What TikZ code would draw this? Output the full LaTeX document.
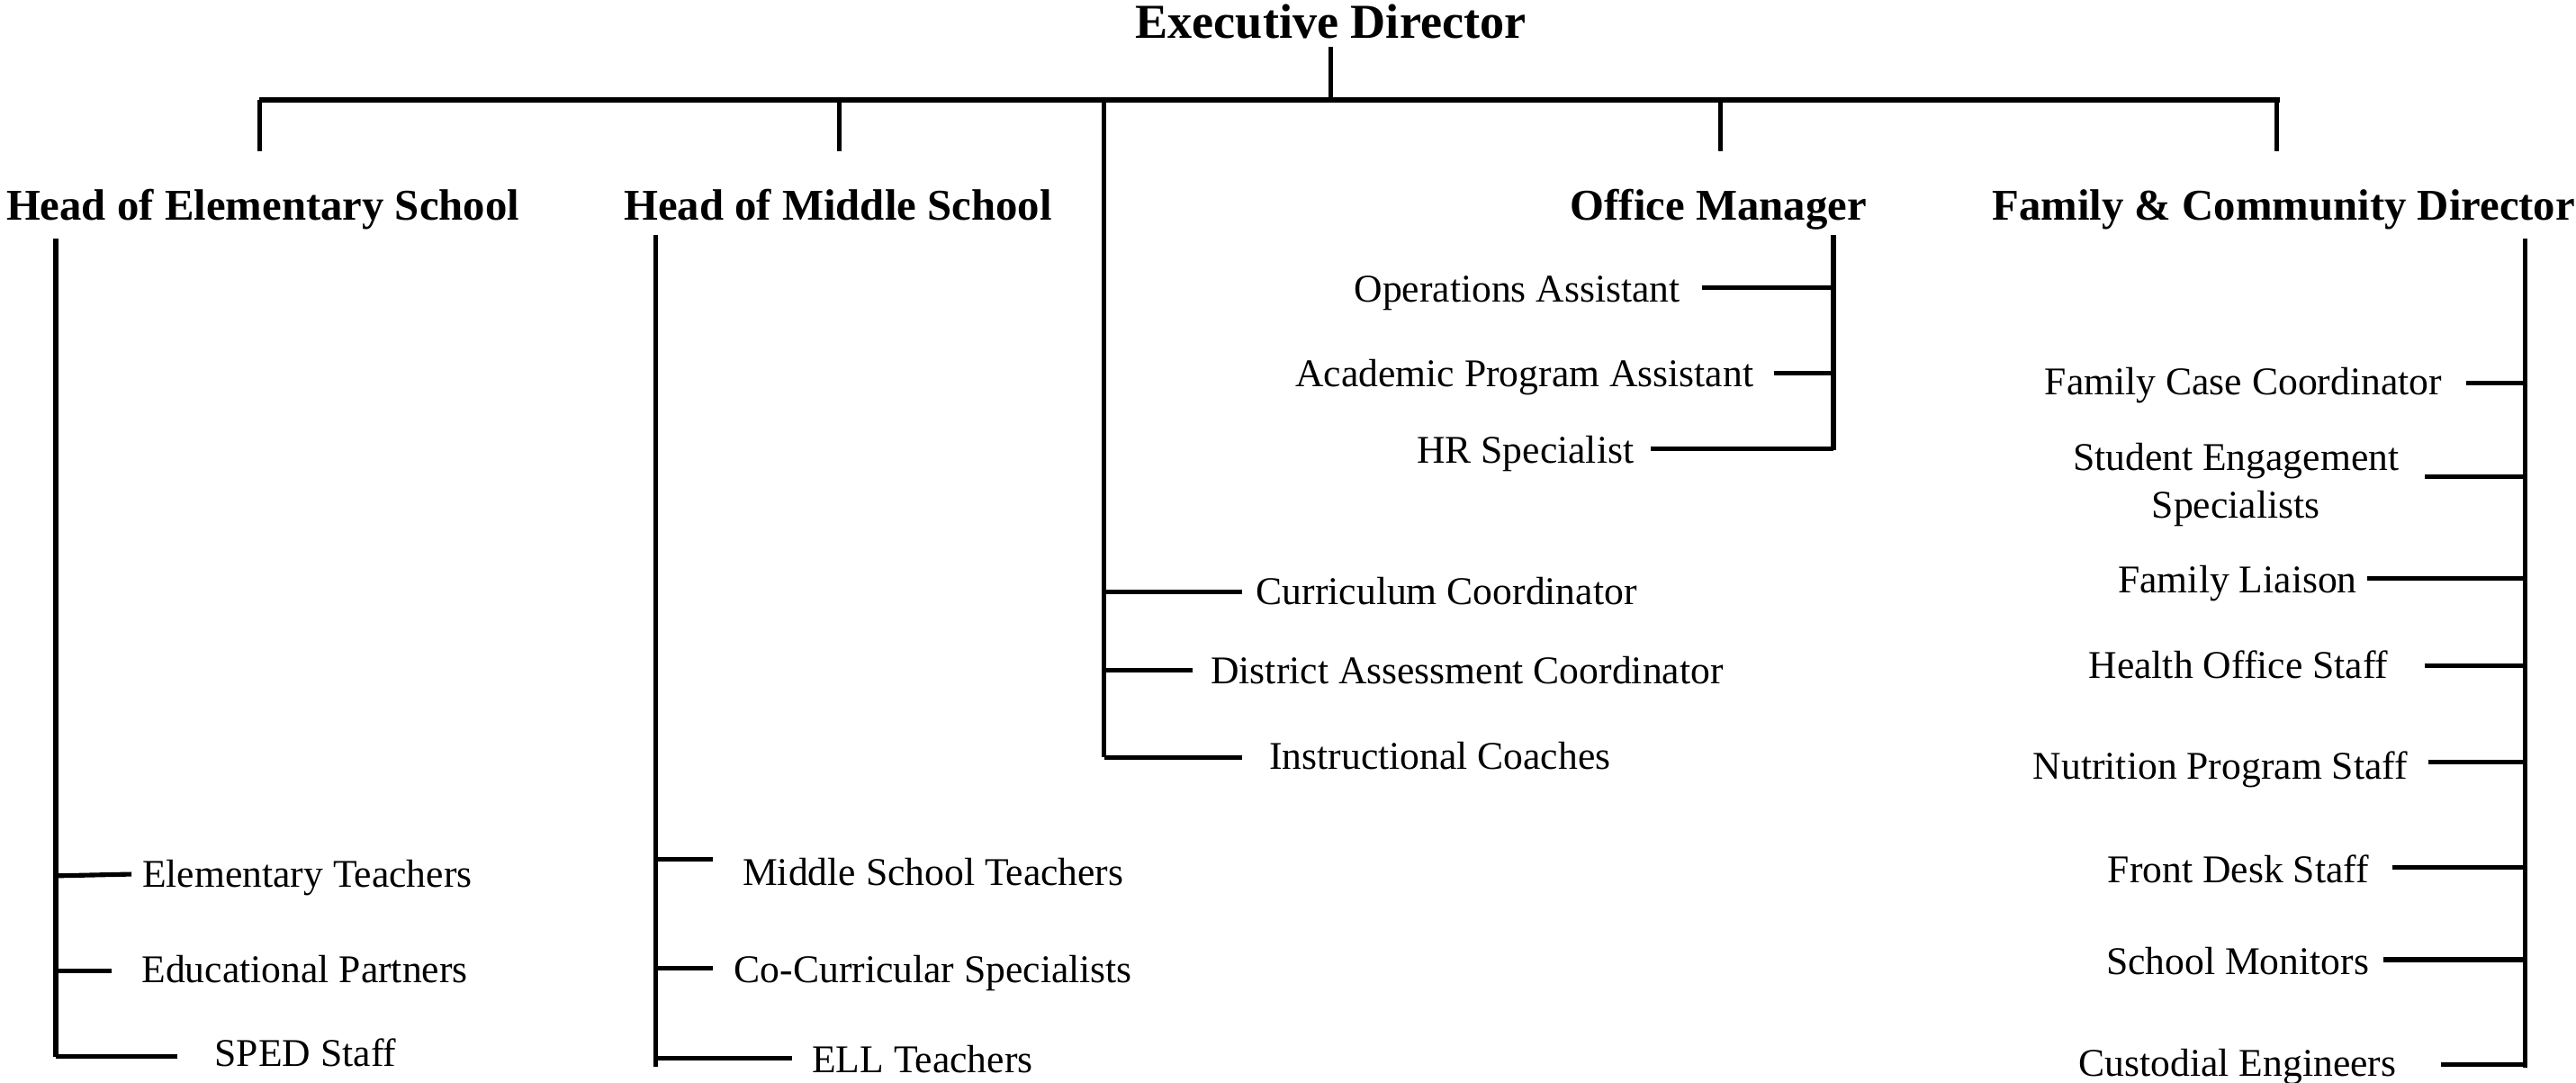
\documentclass[tikz,border=0pt]{standalone}
\usepackage{fontspec}
\setmainfont{Liberation Serif}

\tikzset{
  top/.style={anchor=mid,inner sep=0pt,font=\bfseries\fontsize{16.9}{19}\selectfont},
  head/.style={anchor=mid,inner sep=0pt,font=\bfseries\fontsize{15.2}{18}\selectfont},
  staff/.style={anchor=mid,inner sep=0pt,font=\fontsize{13.6}{16.5}\selectfont},
  link/.style={line width=1.6pt},
  bar/.style={line width=1.8pt}
}

\begin{document}
\begin{tikzpicture}[x=0.02cm,y=-0.02cm]
    \useasboundingbox (0,0) rectangle (1568,659);

    % director and the main bar
    \node[top] (exec) at (810,19) {Executive Director};
    \coordinate (bar) at (810,61);
    \coordinate (bar-w) at (158,61);
    \coordinate (bar-e) at (1388,61);
    \draw[bar] (bar-w) -- (bar-e);
    \draw[link] ([yshift=-0.1cm]exec.south) -- (bar);

    % heads
    \node[head] (hes) at (160,130) {Head of Elementary School};
    \node[head] (hms) at (510,130) {Head of Middle School};
    \node[head] (om) at (1046,130) {Office Manager};
    \node[head] (fcd) at (1390,130) {Family \& Community Director};
    \coordinate (hes-drop) at (158,92);
    \coordinate (hms-drop) at (511,92);
    \coordinate (om-drop) at (1047,92);
    \coordinate (fcd-drop) at (1386,92);
    \draw[link] (hes-drop) -- (hes-drop |- bar);
    \draw[link] (hms-drop) -- (hms-drop |- bar);
    \draw[link] (om-drop) -- (om-drop |- bar);
    \draw[link] (fcd-drop) -- (fcd-drop |- bar);

    % elementary school
    \coordinate (es-top) at (34,145);
    \coordinate (es-bot) at (34,643);
    \draw[link] (es-top) -- (es-bot);
    \node[staff] (et) at (187,536) {Elementary Teachers};
    \node[staff] (ep) at (185.5,594) {Educational Partners};
    \node[staff] (sped) at (186,645) {SPED Staff};
    \coordinate (et-t) at (80,532);
    \coordinate (ep-t) at (68,591);
    \coordinate (sped-t) at (108,643);
    \draw[link] (et-t) -- ([yshift=-0.02cm]et-t -| es-top);
    \draw[link] (ep-t) -- (ep-t -| es-top);
    \draw[link] (sped-t) -- (sped-t -| es-top);

    % middle school
    \coordinate (ms-top) at (399,143);
    \coordinate (ms-bot) at (399,649);
    \draw[link] (ms-top) -- (ms-bot);
    \node[staff] (mst) at (568,535) {Middle School Teachers};
    \node[staff] (ccs) at (568,594) {Co-Curricular Specialists};
    \node[staff] (ell) at (561.5,649) {ELL Teachers};
    \coordinate (mst-t) at (434,523);
    \coordinate (ccs-t) at (434,589);
    \coordinate (ell-t) at (482,644);
    \draw[link] (mst-t) -- (mst-t -| ms-top);
    \draw[link] (ccs-t) -- (ccs-t -| ms-top);
    \draw[link] (ell-t) -- (ell-t -| ms-top);

    % curriculum branch off the bar
    \coordinate (cu-top) at (672,61);
    \coordinate (cu-bot) at (672,461);
    \draw[link] (cu-top) -- (cu-bot);
    \node[staff] (cc) at (880.5,364) {Curriculum Coordinator};
    \node[staff] (dac) at (893,412) {District Assessment Coordinator};
    \node[staff] (ic) at (876.5,464) {Instructional Coaches};
    \coordinate (cc-t) at (756,360);
    \coordinate (dac-t) at (726,408);
    \coordinate (ic-t) at (756,461);
    \draw[link] (cc-t) -- (cc-t -| cu-top);
    \draw[link] (dac-t) -- (dac-t -| cu-top);
    \draw[link] (ic-t) -- (ic-t -| cu-top);

    % office
    \coordinate (of-top) at (1116,143);
    \coordinate (of-bot) at (1116,274);
    \draw[link] (of-top) -- (of-bot);
    \node[staff] (oa) at (923.5,180) {Operations Assistant};
    \node[staff] (apa) at (928,231) {Academic Program Assistant};
    \node[staff] (hr) at (928.5,278) {HR Specialist};
    \coordinate (oa-t) at (1036,175);
    \coordinate (apa-t) at (1080,227);
    \coordinate (hr-t) at (1005,273);
    \draw[link] (oa-t) -- (oa-t -| of-top);
    \draw[link] (apa-t) -- (apa-t -| of-top);
    \draw[link] (hr-t) -- (hr-t -| of-top);

    % family and community
    \coordinate (fa-top) at (1537,145);
    \coordinate (fa-bot) at (1537,650);
    \draw[link] (fa-top) -- (fa-bot);
    \node[staff] (fcc) at (1365.5,236) {Family Case Coordinator};
    \node[staff,anchor=center,align=center] (ses) at (1361,295) {Student Engagement\\Specialists};
    \node[staff] (fl) at (1362,357) {Family Liaison};
    \node[staff] (hos) at (1362.5,409) {Health Office Staff};
    \node[staff] (nps) at (1351.5,470) {Nutrition Program Staff};
    \node[staff] (fds) at (1362.5,533) {Front Desk Staff};
    \node[staff] (sm) at (1362,589) {School Monitors};
    \node[staff] (ce) at (1362,651) {Custodial Engineers};
    \coordinate (fcc-t) at (1501,233);
    \coordinate (ses-t) at (1476,290);
    \coordinate (fl-t) at (1441,352);
    \coordinate (hos-t) at (1476,405);
    \coordinate (nps-t) at (1478,464);
    \coordinate (fds-t) at (1456,528);
    \coordinate (sm-t) at (1451,584);
    \coordinate (ce-t) at (1486,648);
    \draw[link] (fcc-t) -- (fcc-t -| fa-top);
    \draw[link] (ses-t) -- (ses-t -| fa-top);
    \draw[link] (fl-t) -- (fl-t -| fa-top);
    \draw[link] (hos-t) -- (hos-t -| fa-top);
    \draw[link] (nps-t) -- (nps-t -| fa-top);
    \draw[link] (fds-t) -- (fds-t -| fa-top);
    \draw[link] (sm-t) -- (sm-t -| fa-top);
    \draw[link] (ce-t) -- (ce-t -| fa-top);
\end{tikzpicture}
\end{document}
